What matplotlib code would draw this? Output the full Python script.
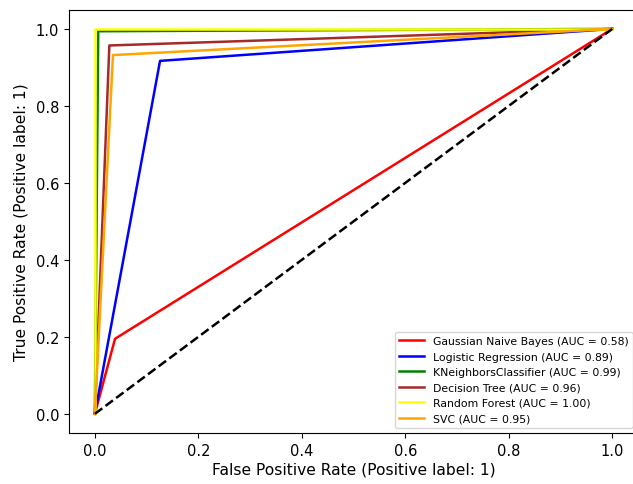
import matplotlib.pyplot as plt

# ROC curves (fpr, tpr) for each model
models = ['Gaussian Naive Bayes', 'Logistic Regression', 'KNeighborsClassifier',
          'Decision Tree', 'Random Forest', 'SVC']
fpr = [[0.0, 0.039, 1.0],
       [0.0, 0.126, 1.0],
       [0.0, 0.0065, 1.0],
       [0.0, 0.028, 1.0],
       [0.0, 0.0, 1.0],
       [0.0, 0.035, 1.0]]
tpr = [[0.0, 0.195, 1.0],
       [0.0, 0.917, 1.0],
       [0.0, 0.994, 1.0],
       [0.0, 0.957, 1.0],
       [0.0, 1.0, 1.0],
       [0.0, 0.932, 1.0]]
auc = [0.58, 0.89, 0.99, 0.96, 1.00, 0.95]
colors = ['red', 'blue', 'green', 'brown', 'yellow', 'orange']

fig = plt.figure(figsize=(6.33, 4.85), dpi=100)
# the original picture is cropped on the right, so the axes run past the edge
ax = fig.add_axes([0.109, 0.105, 0.899, 0.873])

for name, x, y, a, c in zip(models, fpr, tpr, auc, colors):
    ax.plot(x, y, color=c, lw=1.8, label='{} (AUC = {:.2f})'.format(name, a))

ax.plot([0, 1], [0, 1], 'k--', lw=1.8)

ax.set_xlim(-0.05, 1.05)
ax.set_ylim(-0.05, 1.05)
ax.set_xlabel('False Positive Rate (Positive label: 1)', fontsize=11.2, labelpad=3)
ax.set_ylabel('True Positive Rate (Positive label: 1)', fontsize=11.2, labelpad=5)
ax.tick_params(labelsize=10.5)
ax.legend(loc='lower right', fontsize=7.8, handlelength=2.3)

fig.savefig('out.png', dpi=100)
